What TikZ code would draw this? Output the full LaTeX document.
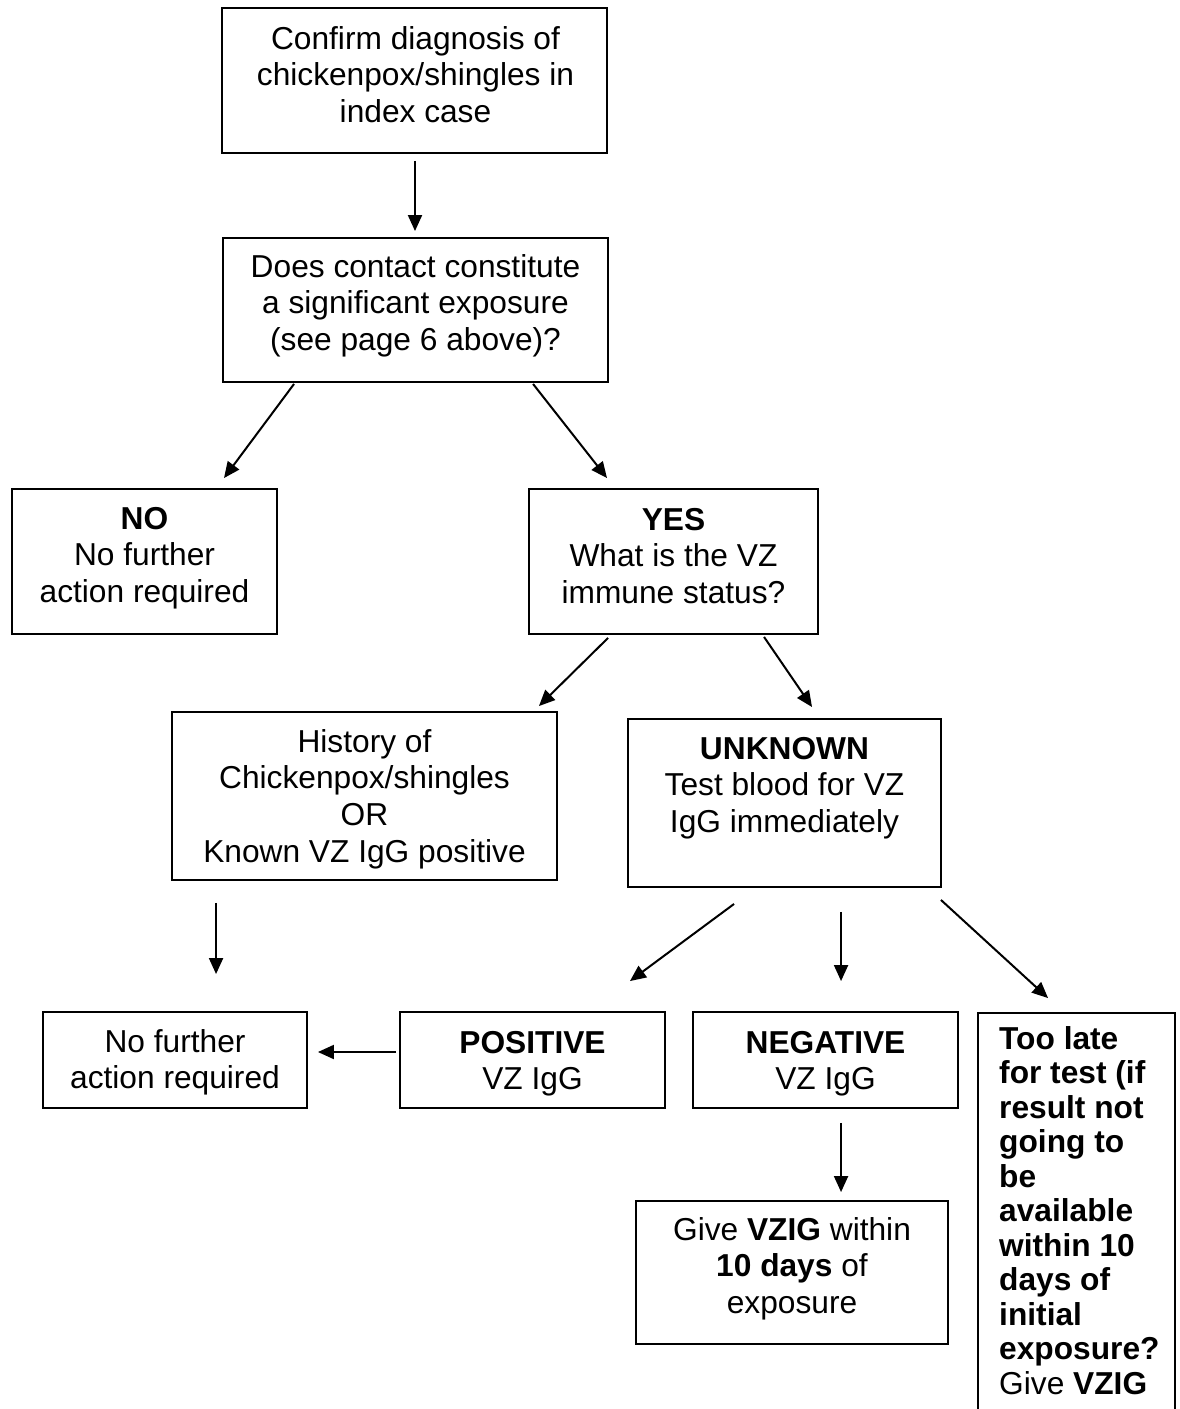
\documentclass[tikz,border=0pt]{standalone}
\usepackage{fontspec}
\setmainfont{Liberation Sans}
\usetikzlibrary{arrows.meta,calc}
\newcommand{\tp}{\rule{0pt}{25pt}}
\begin{document}
\begin{tikzpicture}[x=1pt,y=-1pt,
  boxnode/.style={draw=black,line width=1.9pt,rectangle,inner sep=0pt},
  txt/.style={inner sep=0pt,align=center,font=\fontsize{31.7}{36.7}\selectfont},
  arr/.style={line width=2pt,-{Triangle[length=16pt,width=14pt]}}]
\clip (0,0) rectangle (1179,1409);
\fill[white] (0,0) rectangle (1179,1409);
% boxes
\node[boxnode,minimum width=385pt,minimum height=145pt] (b1) at (414.5,80.5) {};
\node[boxnode,minimum width=385pt,minimum height=144pt] (b2) at (415.5,310) {};
\node[boxnode,minimum width=265pt,minimum height=145pt] (bNo) at (144.5,561.5) {};
\node[boxnode,minimum width=289pt,minimum height=145pt] (bYes) at (673.5,561.5) {};
\node[boxnode,minimum width=385pt,minimum height=168pt] (bHist) at (364.5,796) {};
\node[boxnode,minimum width=313pt,minimum height=168pt] (bUnk) at (784.5,803) {};
\node[boxnode,minimum width=264pt,minimum height=96pt] (bNf) at (175,1060) {};
\node[boxnode,minimum width=265pt,minimum height=96pt] (bPos) at (532.5,1060) {};
\node[boxnode,minimum width=265pt,minimum height=96pt] (bNeg) at (825.5,1060) {};
\node[boxnode,minimum width=312pt,minimum height=143pt] (bGive) at (792,1272.5) {};
\node[boxnode,minimum width=197pt,minimum height=427pt] (bLate) at (1076.5,1226.5) {};
% texts
\node[txt,anchor=north] (t1) at (415.5,24) {\tp Confirm diagnosis of\\chickenpox/shingles in\\index case};
\node[txt,anchor=north] (t2) at (415.5,252) {\tp Does contact constitute\\a significant exposure\\(see page 6 above)?};
\node[txt,anchor=north] (tNo) at (144.5,504) {\tp\textbf{NO}\\No further\\action required};
\node[txt,anchor=north] (tYes) at (673.5,505) {\tp\textbf{YES}\\What is the VZ\\immune status?};
\node[txt,anchor=north] (tHist) at (364.5,727) {\tp History of\\Chickenpox/shingles\\OR\\Known VZ IgG positive};
\node[txt,anchor=north] (tUnk) at (784.5,734) {\tp\textbf{UNKNOWN}\\Test blood for VZ\\IgG immediately};
\node[txt,anchor=north] (tNf) at (175,1027) {\tp No further\\action required};
\node[txt,anchor=north] (tPos) at (532.5,1028) {\tp\textbf{POSITIVE}\\VZ IgG};
\node[txt,anchor=north] (tNeg) at (825.5,1028) {\tp\textbf{NEGATIVE}\\VZ IgG};
\node[txt,anchor=north] (tGive) at (792,1215) {\tp Give \textbf{VZIG} within\\\textbf{10 days} of\\exposure};
\node[txt,anchor=north west,align=left,font=\fontsize{31.7}{34.5}\selectfont] (tLate) at (999,1024)
  {\tp\textbf{Too late}\\\textbf{for test (if}\\\textbf{result not}\\\textbf{going to}\\\textbf{be}\\\textbf{available}\\\textbf{within 10}\\\textbf{days of}\\\textbf{initial}\\\textbf{exposure?}\\Give \textbf{VZIG}};
% connectors
\draw[arr] ($(b1.south)+(0.5,7)$) -- ($(b2.north)+(-0.5,-6)$);
\draw[arr] ($(b2.south west)+(72,1)$) -- ($(bNo.north)+(79.5,-10)$);
\draw[arr] ($(b2.south west)+(311,1)$) -- ($(bYes.north)+(-66.5,-10)$);
\draw[arr] ($(bYes.south west)+(80,3)$) -- ($(bHist.north east)+(-19,-5)$);
\draw[arr] ($(bYes.south west)+(236,2)$) -- ($(bUnk.north west)+(185,-11)$);
\draw[arr] ($(bHist.south west)+(45,22)$) -- ($(bNf.north west)+(174,-37)$);
\draw[arr] ($(bUnk.south west)+(107,16)$) -- ($(bPos.north east)+(-36,-30)$);
\draw[arr] ($(bUnk.south west)+(214,24)$) -- ($(bNeg.north west)+(149,-30)$);
\draw[arr] ($(bUnk.south east)+(-1,12)$) -- ($(bLate.north west)+(71,-14)$);
\draw[arr] ($(bPos.west)+(-3,-8)$) -- ($(bNf.east)+(10,-8)$);
\draw[arr] ($(bNeg.south west)+(149,14)$) -- ($(bGive.north west)+(206,-8)$);
\end{tikzpicture}
\end{document}
